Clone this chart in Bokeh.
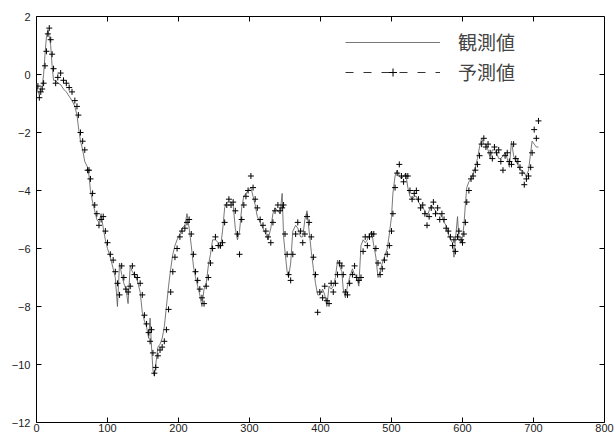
import math
from bokeh.plotting import figure
from bokeh.models import Range1d, Legend, LegendItem, FixedTicker
from bokeh.embed import file_html
from bokeh.resources import INLINE

x_ticks = [0, 100, 200, 300, 400, 500, 600, 700, 800]
y_ticks = [-12, -10, -8, -6, -4, -2, 0, 2]
x_lo, x_hi = 0, 800
y_lo, y_hi = -12, 2
labels = ["観測値", "予測値"]

obs_t = [0, 2, 4, 6, 8, 10, 12, 14, 16, 18,
         20, 22, 24, 27, 30, 34, 38, 42, 46, 50,
         54, 57, 59, 62, 65, 68, 72, 74, 76, 79,
         82, 85, 88, 91, 94, 97, 100, 104, 108, 111,
         114, 117, 120, 123, 126, 129, 132, 135, 138, 142,
         146, 149, 152, 155, 158, 160, 162, 164, 166, 168,
         171, 174, 177, 180, 183, 186, 189, 192, 195, 198,
         202, 205, 209, 212, 215, 218, 221, 224, 227, 230,
         233, 236, 239, 242, 245, 248, 252, 256, 259, 262,
         265, 268, 271, 274, 277, 280, 283, 286, 289, 292,
         295, 298, 302, 305, 308, 311, 315, 319, 323, 326,
         330, 333, 336, 340, 343, 346, 348, 350, 353, 355,
         358, 361, 365, 368, 372, 375, 378, 381, 384, 387,
         390, 393, 396, 399, 403, 406, 409, 412, 415, 418,
         421, 424, 427, 430, 432, 435, 438, 441, 445, 448,
         451, 454, 457, 460, 463, 466, 469, 472, 475, 478,
         481, 484, 487, 490, 494, 497, 500, 502, 505, 508,
         511, 514, 517, 520, 523, 526, 529, 532, 535, 538,
         541, 544, 547, 550, 553, 556, 559, 562, 565, 568,
         571, 574, 577, 580, 583, 586, 588, 590, 593, 595,
         598, 600, 602, 604, 606, 609, 612, 615, 618, 621,
         624, 627, 630, 633, 636, 639, 642, 645, 648, 651,
         654, 657, 660, 663, 666, 669, 672, 675, 678, 681,
         684, 687, 690, 693, 696, 698, 701, 704, 707]

obs_v = [-0.3, -0.6, -0.7, -0.45, -0.4, 0.0, 0.7, 1.3, 1.55, 1.3,
         1.0, 0.3, -0.2, -0.2, -0.3, -0.35, -0.5, -0.6, -0.75, -0.9,
         -1.1, -1.4, -1.8, -2.3, -2.6, -3.0, -3.2, -3.5, -4.0, -4.4,
         -4.7, -5.0, -5.1, -4.8, -5.3, -5.7, -6.0, -6.3, -6.7, -7.0,
         -8.0, -6.5, -6.9, -7.2, -7.4, -7.9, -6.6, -6.8, -6.9, -7.1,
         -7.5, -8.2, -8.5, -8.7, -9.1, -8.4, -9.4, -10.2, -10.4, -10.0,
         -9.4, -9.3, -9.1, -8.7, -8.0, -7.3, -6.7, -6.2, -5.9, -5.7,
         -5.5, -5.3, -5.2, -4.8, -5.3, -5.9, -6.6, -7.0, -7.3, -7.6,
         -8.0, -7.4, -7.2, -6.6, -6.2, -5.7, -5.7, -5.8, -6.0, -5.4,
         -4.6, -4.4, -4.4, -4.4, -4.5, -5.3, -5.7, -5.4, -4.6, -4.2,
         -4.1, -4.0, -3.9, -4.2, -4.5, -4.9, -5.1, -5.3, -5.5, -5.7,
         -5.3, -4.8, -4.6, -4.7, -4.8, -4.1, -5.6, -6.1, -6.8, -7.0,
         -6.5, -5.4, -5.2, -5.3, -5.6, -5.6, -5.0, -4.7, -5.4, -6.1,
         -6.7, -7.2, -7.6, -7.6, -7.4, -7.6, -8.0, -7.3, -7.4, -7.3,
         -7.0, -6.4, -6.6, -6.8, -7.4, -7.7, -7.3, -7.0, -6.7, -6.9,
         -7.0, -7.3, -5.9, -5.7, -5.8, -5.7, -5.5, -5.4, -5.9, -6.3,
         -7.0, -6.8, -6.5, -6.3, -6.0, -5.5, -4.9, -4.1, -3.5, -3.3,
         -3.5, -3.6, -3.5, -3.4, -3.9, -4.2, -4.3, -4.2, -4.2, -4.4,
         -4.5, -4.6, -4.7, -4.9, -4.7, -4.5, -4.6, -4.7, -4.8, -4.8,
         -4.9, -5.1, -5.2, -5.5, -5.7, -5.8, -6.3, -5.7, -4.9, -5.7,
         -5.8, -5.6, -5.2, -4.5, -3.9, -3.7, -3.6, -3.4, -3.2, -2.9,
         -2.5, -2.2, -2.4, -2.4, -2.6, -2.9, -2.6, -2.6, -2.7, -2.9,
         -2.9, -2.8, -2.7, -2.9, -3.2, -2.3, -2.8, -3.0, -3.1, -3.3,
         -3.3, -3.4, -3.5, -3.3, -2.7, -2.3, -2.4, -2.5, -2.5]

pred_v = [0.0, -0.4, -0.8, -0.6, -0.5, -0.3, 0.3, 0.8, 1.4, 1.6,
          1.2, 0.7, 0.2, -0.3, -0.1, 0.05, -0.2, -0.3, -0.45, -0.6,
          -0.9, -1.1, -1.4, -2.0, -2.3, -2.6, -3.3, -3.3, -3.6, -4.1,
          -4.5, -4.8, -5.2, -5.0, -4.9, -5.4, -5.8, -6.2, -6.4, -6.8,
          -7.2, -7.6, -6.6, -7.0, -7.4, -7.5, -7.3, -6.6, -6.9, -7.0,
          -7.2, -7.6, -8.3, -8.6, -8.9, -9.2, -8.8, -9.6, -10.3, -10.1,
          -9.7, -9.5, -9.4, -9.2, -8.8, -8.1, -7.5, -6.8, -6.3, -6.0,
          -5.6, -5.4, -5.3, -5.1, -5.0, -5.5, -6.2, -6.8, -7.1, -7.4,
          -7.7, -7.9, -7.3, -7.0, -6.5, -6.0, -5.6, -5.9, -5.9, -5.8,
          -5.1, -4.5, -4.3, -4.5, -4.4, -4.7, -5.5, -6.2, -5.0, -4.5,
          -4.2, -4.0, -3.5, -3.9, -4.3, -4.6, -5.0, -5.2, -5.4, -5.6,
          -5.8, -5.1, -4.7, -4.5, -4.7, -4.6, -4.5, -5.5, -6.2, -6.9,
          -7.1, -6.2, -5.5, -5.1, -5.4, -5.8, -5.5, -4.9, -5.1, -5.6,
          -6.3, -6.9, -8.2, -7.5, -7.7, -7.3, -7.8, -7.9, -7.2, -7.5,
          -7.2, -6.9, -6.5, -6.6, -6.9, -7.5, -7.6, -7.2, -6.9, -6.6,
          -7.0, -7.1, -7.0, -6.1, -5.6, -5.9, -5.6, -5.5, -5.5, -6.0,
          -6.5, -6.9, -6.7, -6.4, -6.2, -5.9, -5.4, -4.8, -3.9, -3.4,
          -3.1, -3.5, -3.7, -3.5, -3.5, -4.0, -4.3, -4.1, -4.0, -4.3,
          -4.6, -4.5, -4.8, -5.2, -4.9, -4.6, -4.4, -4.8, -4.6, -5.0,
          -4.8, -5.0, -5.3, -5.4, -5.6, -5.9, -5.7, -6.1, -5.6, -5.4,
          -5.7, -5.8, -5.5, -5.1, -4.4, -4.0, -3.6, -3.5, -3.3, -3.1,
          -2.8, -2.4, -2.2, -2.5, -2.4, -2.7, -2.9, -2.5, -2.7, -2.6,
          -3.0, -3.3, -2.8, -2.7, -3.0, -3.1, -2.4, -2.9, -3.0, -3.2,
          -3.4, -3.8, -3.6, -3.5, -3.2, -2.7, -1.9, -2.2, -1.6]

p = figure(width=614, height=435, output_backend="svg", toolbar_location=None,
           x_range=Range1d(x_lo, x_hi), y_range=Range1d(y_lo, y_hi),
           min_border_left=36, min_border_right=10, min_border_top=16,
           min_border_bottom=13)
p.grid.visible = False
p.outline_line_color = "black"
p.outline_line_width = 1
p.background_fill_color = "white"

for ax in p.axis:
    ax.axis_line_color = None
    ax.major_tick_in = 5
    ax.major_tick_out = 0
    ax.minor_tick_line_color = None
    ax.major_tick_line_color = "black"
    ax.major_label_text_font = "Liberation Sans"
    ax.major_label_text_font_size = "11px"
    ax.major_label_text_color = "#222222"

p.xaxis.ticker = FixedTicker(ticks=x_ticks)
p.yaxis.ticker = FixedTicker(ticks=y_ticks)
p.xaxis.major_label_standoff = 1
p.yaxis.major_label_standoff = 6

# mirrored inward ticks on the top and right borders
p.ray(x=x_ticks, y=[y_hi] * len(x_ticks), length=5, length_units="screen",
      angle=-math.pi / 2, line_color="black", line_width=1)
p.ray(x=[x_hi] * len(y_ticks), y=y_ticks, length=5, length_units="screen",
      angle=math.pi, line_color="black", line_width=1)

obs_r = p.line(obs_t, obs_v, line_color="#555555", line_width=0.8)
pred_r = p.scatter(obs_t, pred_v, marker="cross", size=6,
                   line_color="black", line_width=1)
dash_r = p.line([float("nan"), float("nan")], [float("nan"), float("nan")],
                line_color="#333333", line_width=1, line_dash="8 10")

legend = Legend(items=[LegendItem(label=labels[0], renderers=[obs_r]),
                       LegendItem(label=labels[1], renderers=[dash_r, pred_r])],
                location=(309, 337), glyph_width=95, glyph_height=20,
                label_height=20, spacing=3, padding=0, margin=0,
                label_standoff=18, border_line_color=None,
                background_fill_alpha=0,
                label_text_font="Noto Sans CJK JP",
                label_text_font_size="19px")
p.add_layout(legend)

open("out.html", "w").write(file_html(p, INLINE))
